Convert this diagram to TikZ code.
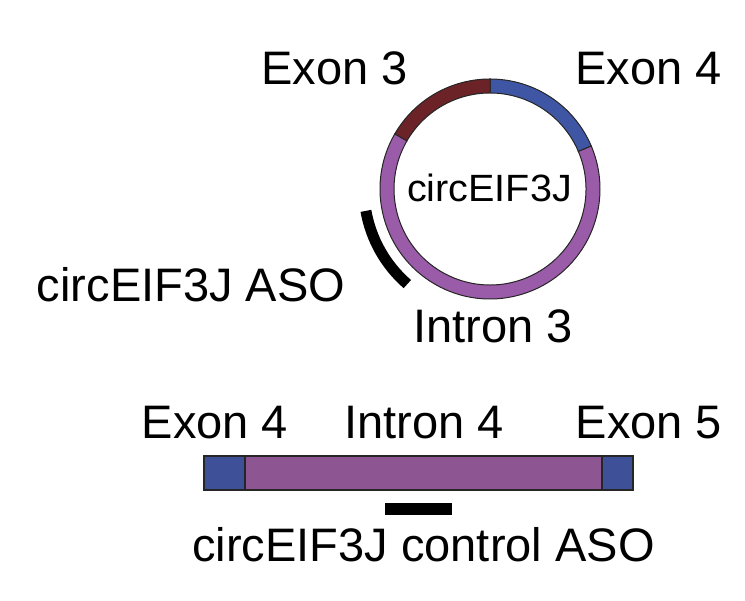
\documentclass[tikz,border=0pt]{standalone}
\usepackage{fontspec}
\setmainfont{Liberation Sans}
\definecolor{exonred}{HTML}{6B2328}
\definecolor{exonblue}{HTML}{3F56A5}
\definecolor{intronpurple}{HTML}{9A5BA8}
\definecolor{barpurple}{HTML}{8D5592}
\definecolor{barblue}{HTML}{3D5098}

\begin{document}
\begin{tikzpicture}[x=1pt,y=1pt,
  lbl/.style={anchor=base, inner sep=0pt, font=\fontsize{47}{56}\selectfont},
  seg/.style={draw=black!85, line width=1pt},
  box/.style={draw=black!85, line width=2pt}]
  \useasboundingbox (0,0) rectangle (745,601);

  % Ring of circEIF3J (outer radius 110, inner radius 96)
  \begin{scope}[shift={(490,412)}]
    \filldraw[seg, fill=exonblue] (23:110) arc (23:90:110) -- (90:96) arc (90:23:96) -- cycle;
    \filldraw[seg, fill=exonred] (90:110) arc (90:150:110) -- (150:96) arc (150:90:96) -- cycle;
    \filldraw[seg, fill=intronpurple] (150:110) arc (150:383:110) -- (383:96) arc (383:150:96) -- cycle;
    % ASO along the back-splice side
    \draw[line width=11pt] (190:126) arc (190:229:126);
  \end{scope}
  \node[inner sep=0pt, anchor=base, font=\fontsize{38}{45}\selectfont, xscale=1.04, transform shape] (circ) at (489.5,399) {circEIF3J};

  % Labels round the ring
  \node[lbl] (exon3) at (334.5,516) {Exon 3};
  \node[lbl] (exon4) at (648.5,516) {Exon 4};
  \node[lbl] (aso) at (191,299) {circEIF3J ASO};
  \node[lbl] (intron3) at (493,258) {Intron 3};

  % Linear pre-mRNA: exon 4, intron 4, exon 5
  \filldraw[box, fill=barpurple] (245,111) rectangle (602,145);
  \filldraw[box, fill=barblue] (204,111) rectangle (245,145);
  \filldraw[box, fill=barblue] (602,111) rectangle (633,145);
  \fill (385,86) rectangle (452,98);

  \node[lbl] (exon4b) at (215,162) {Exon 4};
  \node[lbl] (intron4) at (424,162) {Intron 4};
  \node[lbl] (exon5) at (649,162) {Exon 5};
  \node[lbl] (ctrl) at (423.5,39) {circEIF3J control ASO};
\end{tikzpicture}
\end{document}
